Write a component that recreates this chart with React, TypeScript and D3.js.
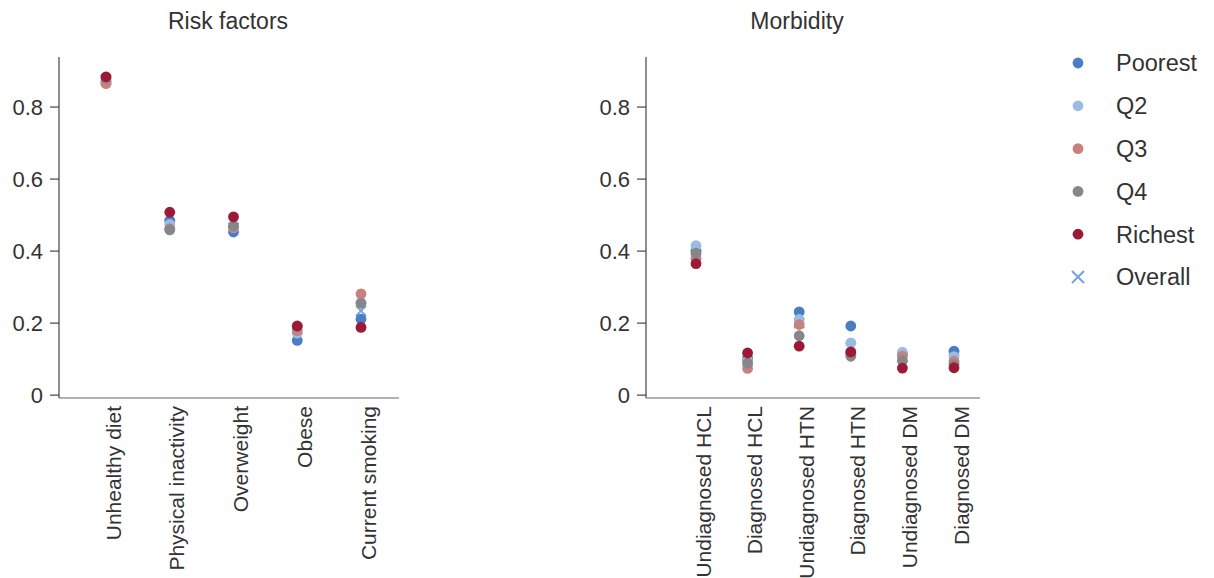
import React from "react";
import * as d3 from "d3";

const riskCategories = ["Unhealthy diet", "Physical inactivity", "Overweight", "Obese", "Current smoking"];
const morbCategories = ["Undiagnosed HCL", "Diagnosed HCL", "Undiagnosed HTN", "Diagnosed HTN", "Undiagnosed DM", "Diagnosed DM"];

const seriesNames = ["Poorest", "Q2", "Q3", "Q4", "Richest"];
const seriesColors = ["#4a7ec2", "#9bbce2", "#c88080", "#87878a", "#9c1a36"];
const overallColor = "#7aa2d8";

// Risk factors values per series
const riskPoorest = [0.872, 0.485, 0.453, 0.152, 0.211];
const riskQ2 = [0.868, 0.474, 0.465, 0.172, 0.257];
const riskQ3 = [0.865, 0.462, 0.466, 0.179, 0.281];
const riskQ4 = [0.88, 0.459, 0.47, 0.19, 0.255];
const riskRichest = [0.884, 0.508, 0.495, 0.192, 0.188];
const riskOverall = [0.875, 0.474, 0.465, 0.183, 0.234];

// Morbidity values per series
const morbPoorest = [0.4, 0.1, 0.231, 0.192, 0.115, 0.122];
const morbQ2 = [0.415, 0.095, 0.21, 0.145, 0.119, 0.107];
const morbQ3 = [0.38, 0.074, 0.196, 0.115, 0.108, 0.094];
const morbQ4 = [0.394, 0.089, 0.165, 0.108, 0.096, 0.085];
const morbRichest = [0.365, 0.117, 0.136, 0.12, 0.075, 0.076];
const morbOverall = [0.39, 0.095, 0.2, 0.132, 0.105, 0.1];

const yTicks = [0, 0.2, 0.4, 0.6, 0.8];
const yTickLabels = ["0", "0.2", "0.4", "0.6", "0.8"];

const FONT = "'Liberation Sans', Arial, sans-serif";
const TEXT = "#333333";

type PanelProps = {
  title: string;
  titleX: number;
  cats: string[];
  series: number[][];
  overall: number[];
  axisLeft: number;
  axisRight: number;
  firstX: number;
  lastX: number;
};

function Panel({ title, titleX, cats, series, overall, axisLeft, axisRight, firstX, lastX }: PanelProps) {
  const y = d3.scaleLinear().domain([-0.008, 0.939]).range([398, 57]);
  const x = d3.scalePoint<string>().domain(cats).range([firstX, lastX]);
  const xMark = 5;
  return (
    <g>
      <text x={titleX} y={29} textAnchor="middle" fontFamily={FONT} fontSize={23} fill={TEXT}>
        {title}
      </text>
      {/* y axis */}
      <line x1={axisLeft} x2={axisLeft} y1={y(0.939)} y2={y(-0.008)} stroke="#444" strokeWidth={1.2} />
      {yTicks.map((t, i) => (
        <g key={t}>
          <line x1={axisLeft - 9} x2={axisLeft} y1={y(t)} y2={y(t)} stroke="#444" strokeWidth={1.2} />
          <text
            x={axisLeft - 16}
            y={y(t)}
            dy="0.36em"
            textAnchor="end"
            fontFamily={FONT}
            fontSize={22}
            fill={TEXT}
          >
            {yTickLabels[i]}
          </text>
        </g>
      ))}
      {/* x axis */}
      <line x1={axisLeft} x2={axisRight} y1={y(-0.008)} y2={y(-0.008)} stroke="#666" strokeWidth={1.2} />
      {cats.map((c) => (
        <text
          key={c}
          transform={`translate(${(x(c) as number) + 7},${y(-0.008) + 8}) rotate(-90)`}
          dy="0.36em"
          textAnchor="end"
          fontFamily={FONT}
          fontSize={21}
          fill={TEXT}
        >
          {c}
        </text>
      ))}
      {/* overall markers drawn first */}
      {cats.map((c, i) => {
        const cx = x(c) as number;
        const cy = y(overall[i]);
        return (
          <path
            key={"o" + c}
            d={`M${cx - xMark},${cy - xMark}L${cx + xMark},${cy + xMark}M${cx - xMark},${cy + xMark}L${cx + xMark},${cy - xMark}`}
            stroke={overallColor}
            strokeWidth={2}
            fill="none"
          />
        );
      })}
      {series.map((vals, si) =>
        vals.map((v, i) => (
          <circle key={si + "-" + i} cx={x(cats[i]) as number} cy={y(v)} r={5.4} fill={seriesColors[si]} />
        ))
      )}
    </g>
  );
}

function Legend() {
  const rows = d3.scaleLinear().domain([0, 5]).range([63, 277]);
  const items = [...seriesNames, "Overall"];
  return (
    <g>
      {items.map((name, i) => {
        const cy = rows(i);
        const cx = 1078;
        return (
          <g key={name}>
            {i < 5 ? (
              <circle cx={cx} cy={cy} r={5.4} fill={seriesColors[i]} />
            ) : (
              <path
                d={`M${cx - 6},${cy - 6}L${cx + 6},${cy + 6}M${cx - 6},${cy + 6}L${cx + 6},${cy - 6}`}
                stroke={overallColor}
                strokeWidth={2}
                fill="none"
              />
            )}
            <text x={1116} y={cy} dy="0.36em" fontFamily={FONT} fontSize={23.5} fill={TEXT}>
              {name}
            </text>
          </g>
        );
      })}
    </g>
  );
}

export default function App() {
  return (
    <svg
      width={1214}
      height={578}
      style={{ position: "absolute", left: 0, top: 0, background: "#fff" }}
    >
      <Panel
        title="Risk factors"
        titleX={228}
        cats={riskCategories}
        series={[riskPoorest, riskQ2, riskQ3, riskQ4, riskRichest]}
        overall={riskOverall}
        axisLeft={59}
        axisRight={399}
        firstX={106}
        lastX={361}
      />
      <Panel
        title="Morbidity"
        titleX={797}
        cats={morbCategories}
        series={[morbPoorest, morbQ2, morbQ3, morbQ4, morbRichest]}
        overall={morbOverall}
        axisLeft={646}
        axisRight={980}
        firstX={696}
        lastX={954}
      />
      <Legend />
    </svg>
  );
}
